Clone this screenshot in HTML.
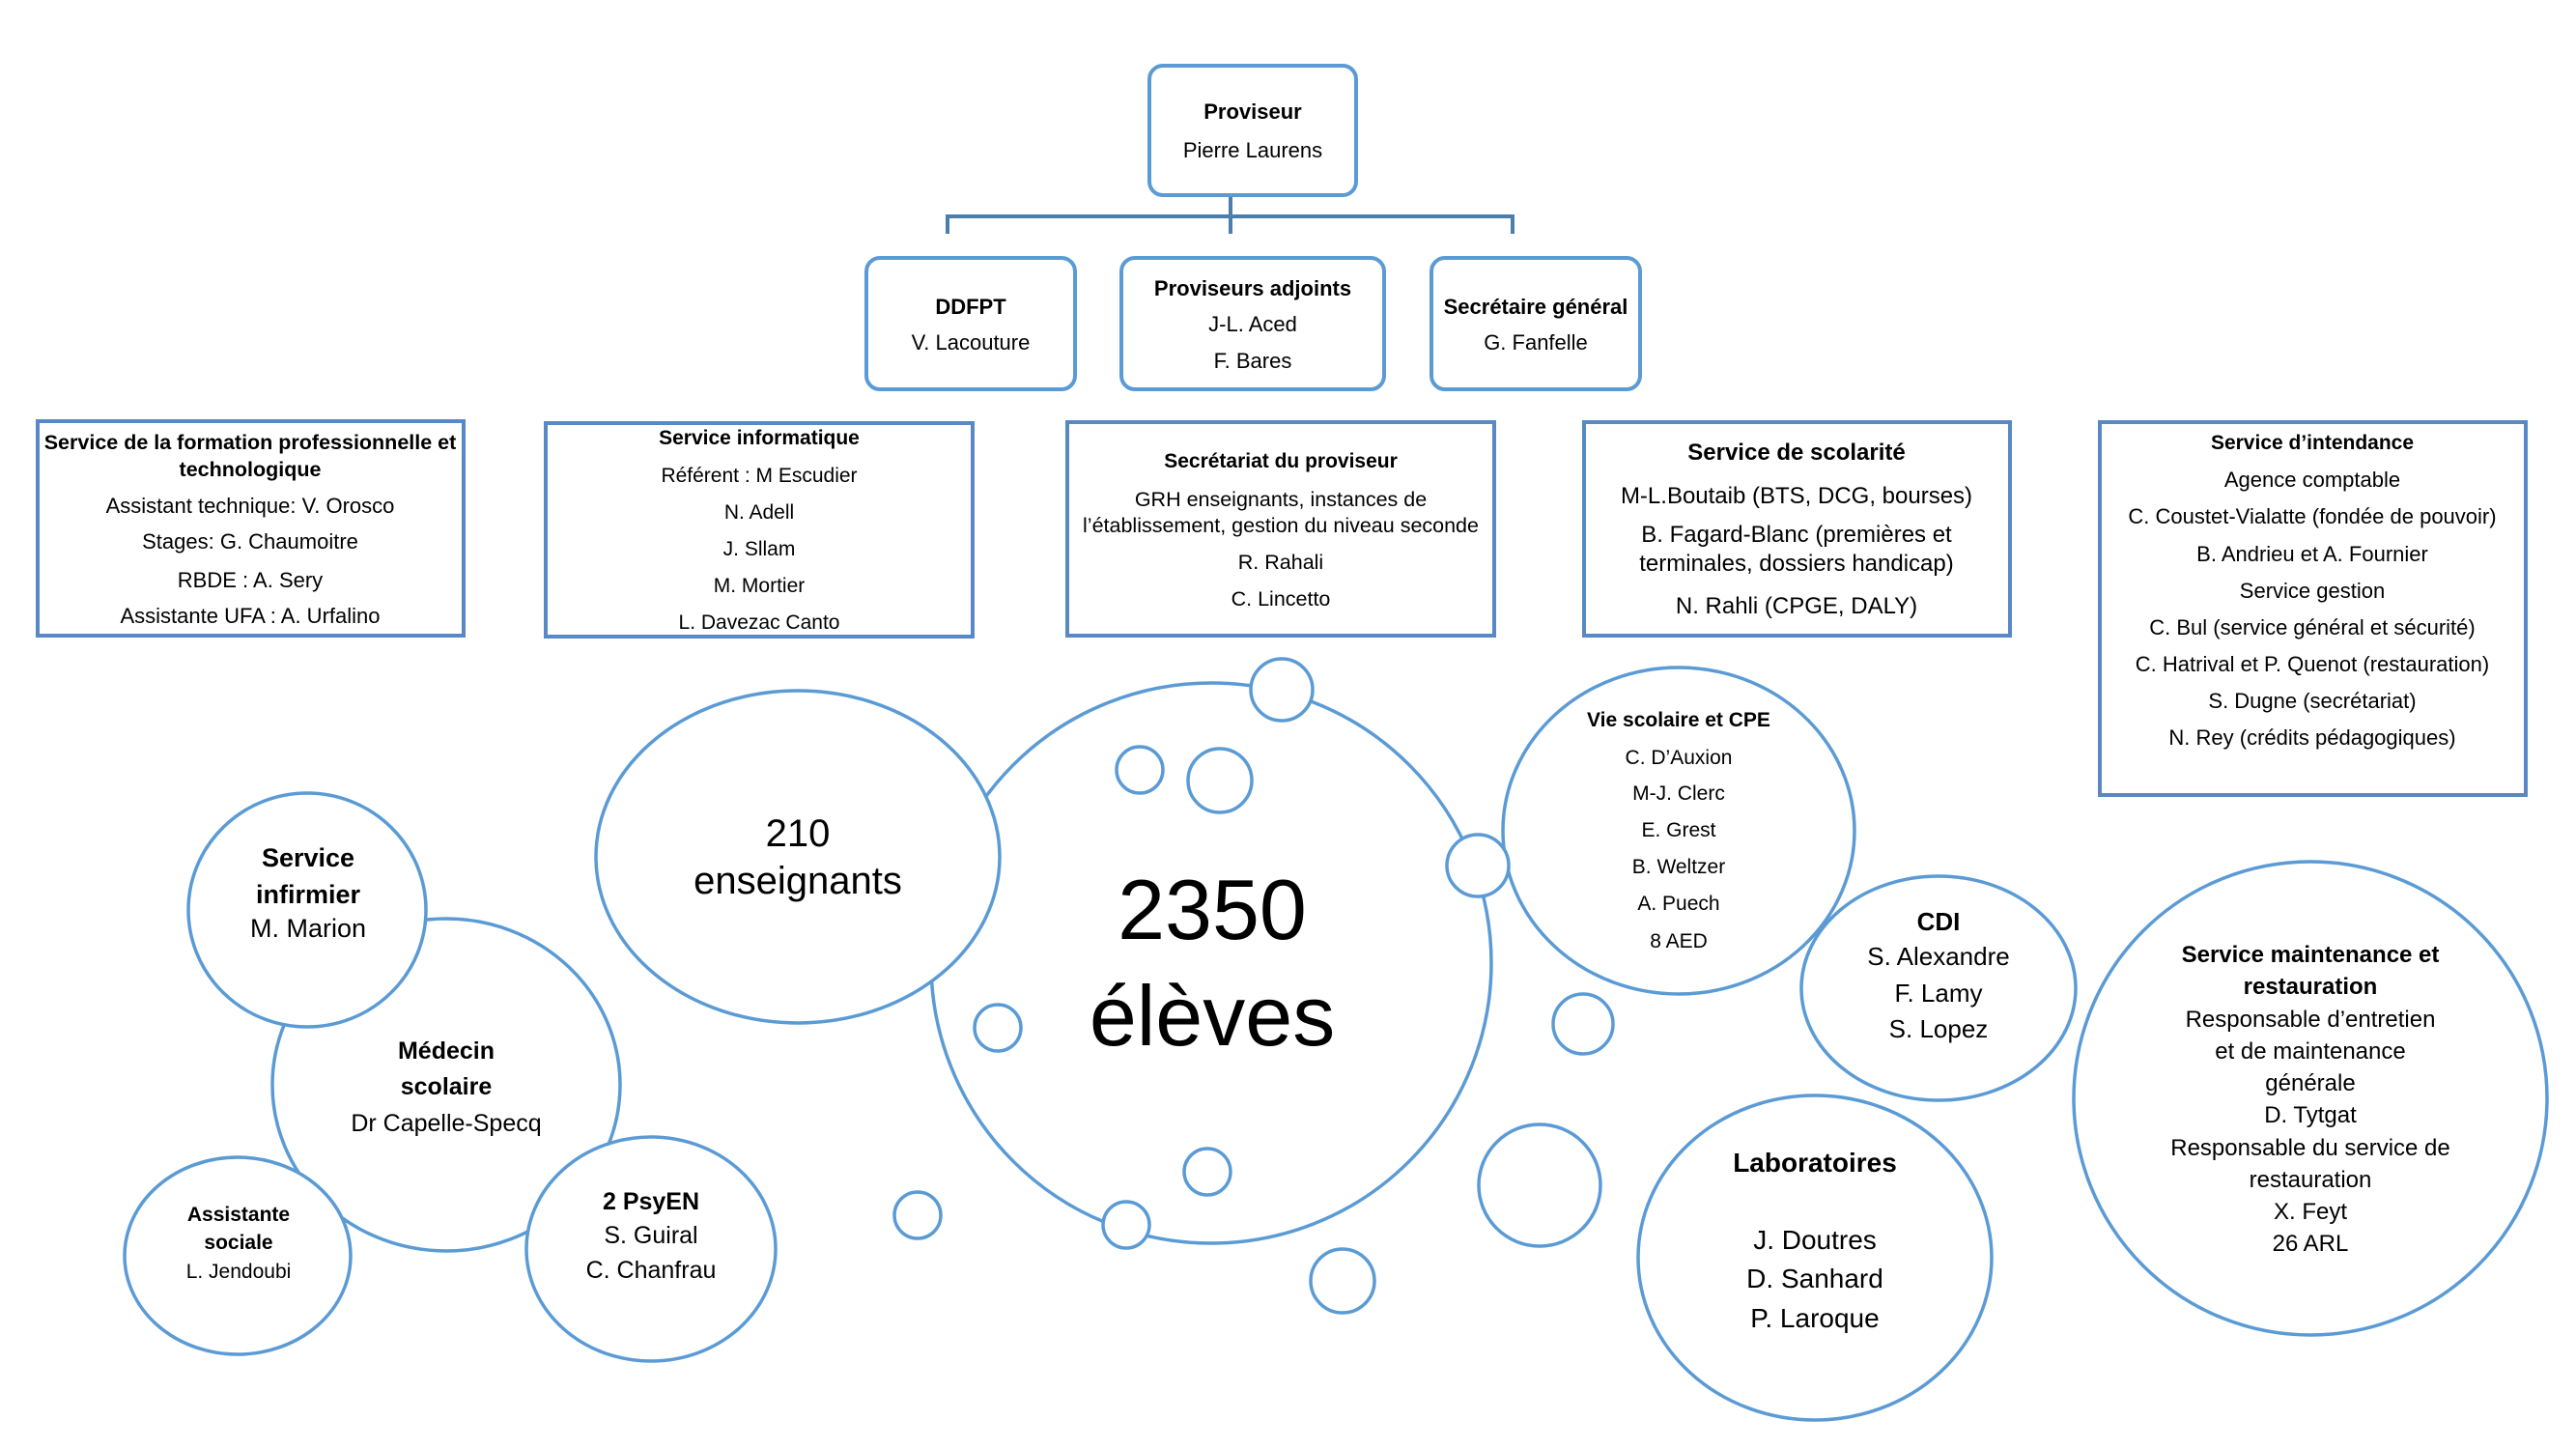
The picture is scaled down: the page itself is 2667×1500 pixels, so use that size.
<!DOCTYPE html>
<html>
<head>
<meta charset="utf-8">
<style>
html,body{margin:0;padding:0;background:#fff;}
svg{display:block;}
text{font-family:"Liberation Sans",Arial,sans-serif;fill:#000;text-anchor:middle;}
.b{font-weight:bold;}
</style>
</head>
<body>
<svg width="2667" height="1500" viewBox="0 0 2667 1500" xmlns="http://www.w3.org/2000/svg">
<rect width="2667" height="1500" fill="#fff"/>

<!-- connectors -->
<g stroke="#4a7eab" stroke-width="4" fill="none">
  <line x1="1274" y1="200" x2="1274" y2="242"/>
  <line x1="979" y1="224" x2="1568" y2="224"/>
  <line x1="981" y1="222" x2="981" y2="242"/>
  <line x1="1566" y1="222" x2="1566" y2="242"/>
</g>

<!-- rounded top boxes -->
<g stroke="#5b9bd5" stroke-width="4" fill="#fff">
  <rect x="1190" y="68" width="214" height="134" rx="14"/>
  <rect x="897" y="267" width="216" height="136" rx="14"/>
  <rect x="1161" y="267" width="272" height="136" rx="14"/>
  <rect x="1482" y="267" width="216" height="136" rx="14"/>
</g>
<g font-size="22">
  <text x="1297" y="123" class="b">Proviseur</text>
  <text x="1297" y="163">Pierre Laurens</text>
  <text x="1005" y="325" class="b">DDFPT</text>
  <text x="1005" y="362">V. Lacouture</text>
  <text x="1297" y="306" class="b">Proviseurs adjoints</text>
  <text x="1297" y="343">J-L. Aced</text>
  <text x="1297" y="381">F. Bares</text>
  <text x="1590" y="325" class="b">Secrétaire général</text>
  <text x="1590" y="362">G. Fanfelle</text>
</g>

<!-- square boxes -->
<g stroke="#5889c4" stroke-width="4" fill="#fff">
  <rect x="39" y="436" width="441" height="222"/>
  <rect x="565" y="438" width="442" height="221"/>
  <rect x="1105" y="437" width="442" height="221"/>
  <rect x="1640" y="437" width="441" height="221"/>
  <rect x="2174" y="437" width="441" height="386"/>
</g>

<!-- box 1 -->
<text x="259" y="465" font-size="21.5" class="b">Service de la formation professionnelle et</text>
<text x="259" y="493" font-size="21.5" class="b">technologique</text>
<g font-size="22">
  <text x="259" y="531">Assistant technique: V. Orosco</text>
  <text x="259" y="568">Stages: G. Chaumoitre</text>
  <text x="259" y="608">RBDE : A. Sery</text>
  <text x="259" y="645">Assistante UFA : A. Urfalino</text>
</g>

<!-- box 2 -->
<g font-size="21">
  <text x="786" y="460" class="b">Service informatique</text>
  <text x="786" y="499">Référent : M Escudier</text>
  <text x="786" y="537">N. Adell</text>
  <text x="786" y="575">J. Sllam</text>
  <text x="786" y="613">M. Mortier</text>
  <text x="786" y="651">L. Davezac Canto</text>
</g>

<!-- box 3 -->
<text x="1326" y="484" font-size="21" class="b">Secrétariat du proviseur</text>
<g font-size="21.5">
  <text x="1326" y="524">GRH enseignants, instances de</text>
  <text x="1326" y="551">l’établissement, gestion du niveau seconde</text>
  <text x="1326" y="589">R. Rahali</text>
  <text x="1326" y="627">C. Lincetto</text>
</g>

<!-- box 4 -->
<g font-size="24">
  <text x="1860" y="476" class="b">Service de scolarité</text>
  <text x="1860" y="521">M-L.Boutaib (BTS, DCG, bourses)</text>
  <text x="1860" y="561">B. Fagard-Blanc (premières et</text>
  <text x="1860" y="591">terminales, dossiers handicap)</text>
  <text x="1860" y="635">N. Rahli (CPGE, DALY)</text>
</g>

<!-- box 5 -->
<text x="2394" y="465" font-size="21" class="b">Service d’intendance</text>
<g font-size="22">
  <text x="2394" y="504">Agence comptable</text>
  <text x="2394" y="542">C. Coustet-Vialatte (fondée de pouvoir)</text>
  <text x="2394" y="581">B. Andrieu et A. Fournier</text>
  <text x="2394" y="619">Service gestion</text>
  <text x="2394" y="657">C. Bul (service général et sécurité)</text>
  <text x="2394" y="695">C. Hatrival et P. Quenot (restauration)</text>
  <text x="2394" y="733">S. Dugne (secrétariat)</text>
  <text x="2394" y="771">N. Rey (crédits pédagogiques)</text>
</g>

<!-- circles -->
<g stroke="#5b9bd5" stroke-width="3.5" fill="#fff">
  <circle cx="1254" cy="997" r="290"/>
  <ellipse cx="826" cy="887" rx="209" ry="172"/>
  <ellipse cx="462" cy="1123" rx="180" ry="172"/>
  <ellipse cx="318" cy="942" rx="123" ry="121"/>
  <ellipse cx="246" cy="1300" rx="117" ry="102"/>
  <ellipse cx="674" cy="1293" rx="129" ry="116"/>
  <ellipse cx="1738" cy="860" rx="182" ry="169"/>
  <ellipse cx="2007" cy="1023" rx="142" ry="116"/>
  <ellipse cx="1879" cy="1302" rx="183" ry="168"/>
  <circle cx="2392" cy="1137" r="245"/>
  <!-- small bubbles -->
  <circle cx="1327" cy="714" r="32"/>
  <circle cx="1180" cy="797" r="24"/>
  <circle cx="1263" cy="808" r="33"/>
  <circle cx="1530" cy="896" r="32"/>
  <circle cx="1033" cy="1064" r="24"/>
  <circle cx="1250" cy="1213" r="24"/>
  <circle cx="1166" cy="1268" r="24"/>
  <circle cx="950" cy="1258" r="24"/>
  <circle cx="1390" cy="1326" r="33"/>
  <circle cx="1639" cy="1060" r="31"/>
  <circle cx="1594" cy="1227" r="63"/>
</g>

<!-- circle texts -->
<g font-size="40">
  <text x="826" y="876">210</text>
  <text x="826" y="925">enseignants</text>
</g>
<g font-size="88">
  <text x="1255" y="972">2350</text>
  <text x="1255" y="1082">élèves</text>
</g>
<g font-size="27">
  <text x="319" y="897" class="b">Service</text>
  <text x="319" y="935" class="b">infirmier</text>
  <text x="319" y="970">M. Marion</text>
</g>
<g font-size="25">
  <text x="462" y="1096" class="b">Médecin</text>
  <text x="462" y="1133" class="b">scolaire</text>
  <text x="462" y="1171">Dr Capelle-Specq</text>
</g>
<g font-size="21">
  <text x="247" y="1264" class="b">Assistante</text>
  <text x="247" y="1293" class="b">sociale</text>
  <text x="247" y="1323">L. Jendoubi</text>
</g>
<g font-size="25">
  <text x="674" y="1252" class="b">2 PsyEN</text>
  <text x="674" y="1287">S. Guiral</text>
  <text x="674" y="1323">C. Chanfrau</text>
</g>
<g font-size="21">
  <text x="1738" y="752" class="b">Vie scolaire et CPE</text>
  <text x="1738" y="791">C. D’Auxion</text>
  <text x="1738" y="828">M-J. Clerc</text>
  <text x="1738" y="866">E. Grest</text>
  <text x="1738" y="904">B. Weltzer</text>
  <text x="1738" y="942">A. Puech</text>
  <text x="1738" y="981">8 AED</text>
</g>
<g font-size="26">
  <text x="2007" y="963" class="b">CDI</text>
  <text x="2007" y="999">S. Alexandre</text>
  <text x="2007" y="1037">F. Lamy</text>
  <text x="2007" y="1074">S. Lopez</text>
</g>
<g font-size="28">
  <text x="1879" y="1213" class="b">Laboratoires</text>
  <text x="1879" y="1293">J. Doutres</text>
  <text x="1879" y="1333">D. Sanhard</text>
  <text x="1879" y="1374">P. Laroque</text>
</g>
<g font-size="24">
  <text x="2392" y="996" class="b">Service maintenance et</text>
  <text x="2392" y="1029" class="b">restauration</text>
  <text x="2392" y="1063">Responsable d’entretien</text>
  <text x="2392" y="1096">et de maintenance</text>
  <text x="2392" y="1129">générale</text>
  <text x="2392" y="1162">D. Tytgat</text>
  <text x="2392" y="1196">Responsable du service de</text>
  <text x="2392" y="1229">restauration</text>
  <text x="2392" y="1262">X. Feyt</text>
  <text x="2392" y="1295">26 ARL</text>
</g>
</svg>
</body>
</html>
